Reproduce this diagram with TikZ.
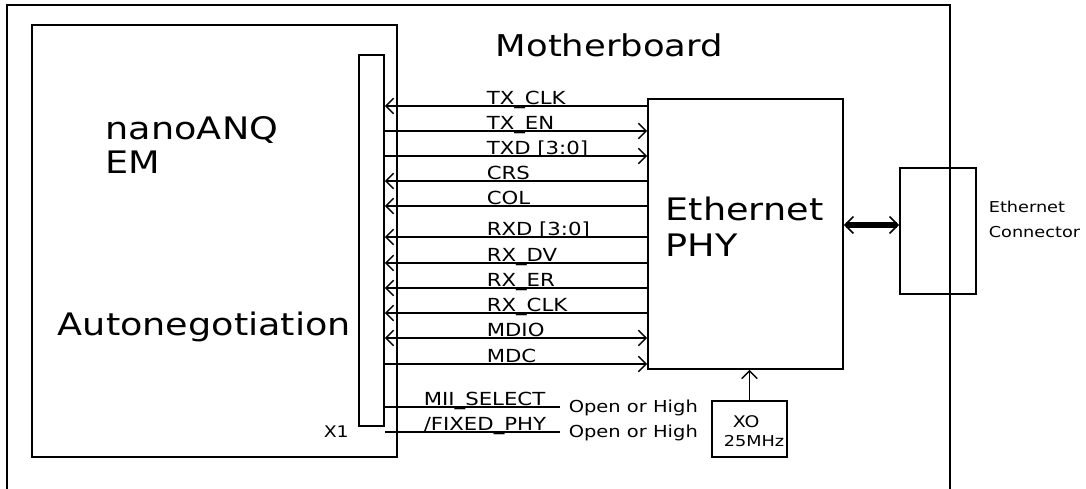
\documentclass[tikz,border=0pt]{standalone}
\usepackage{fontspec}
\setmainfont{DejaVu Sans}[FakeStretch=1.18]
\usetikzlibrary{arrows.meta}
\begin{document}
\begin{tikzpicture}[x=1pt,y=-1pt,line width=1.6pt,
  box/.style={draw,rectangle,inner sep=0pt,line width=1.6pt},
  txt/.style={anchor=base west,inner sep=0pt},
  big/.style={txt,font=\fontsize{31}{36}\selectfont},
  sig/.style={txt,font=\fontsize{18}{20}\selectfont},
  small/.style={txt,font=\fontsize{16.5}{18}\selectfont},
  lar/.style={{Straight Barb[angle=90:11pt,line width=1.5pt]}-},
  rar/.style={-{Straight Barb[angle=90:11pt,line width=1.5pt]}},
  bar/.style={{Straight Barb[angle=90:11pt,line width=1.5pt]}-{Straight Barb[angle=90:11pt,line width=1.5pt]}},
  thick arrow/.style={line width=6pt,{Straight Barb[angle=90:12pt,line width=1.6pt]}-{Straight Barb[angle=90:12pt,line width=1.6pt]}}]
\useasboundingbox (0,0) rectangle (1086,488);
\fill[white] (0,0) rectangle (1086,488);
% motherboard frame
\draw (7,490) -- (7,5) -- (950,5) -- (950,490);
\node[txt,font=\fontsize{30}{34}\selectfont] (mb) at (495,56) {Motherboard};
% boxes
\node[box,minimum width=365pt,minimum height=432pt] (em) at (214.5,241) {};
\node[box,minimum width=25pt,minimum height=371pt] (x1) at (371.5,240.5) {};
\node[box,minimum width=195pt,minimum height=270pt] (phy) at (745.5,234) {};
\node[box,minimum width=75pt,minimum height=56pt] (xo) at (749.5,429) {};
\node[box,minimum width=76pt,minimum height=126pt] (conn) at (938,231) {};
% texts
\node[big] (t1) at (105,139) {nanoANQ};
\node[big] (t2) at (105,173) {EM};
\node[big] (t3) at (57,335) {Autonegotiation};
\node[txt,font=\fontsize{16}{18}\selectfont] (t4) at (323,437) {X1};
\node[big] (t5) at (665,220) {Ethernet};
\node[big] (t6) at (665,256) {PHY};
\node[txt,font=\fontsize{16}{17}\selectfont] (t7) at (732,427) {XO};
\node[txt,font=\fontsize{15}{17}\selectfont] (t8) at (723,446) {25MHz};
\node[txt,font=\fontsize{15}{17}\selectfont] (t9) at (988,212) {Ethernet};
\node[txt,font=\fontsize{15}{17}\selectfont] (t10) at (988,237) {Connector};
% signals
\draw[lar] (x1.east |- 0,106) -- (phy.west |- 0,106);
\node[sig] (s1) at (486,104) {TX\_CLK};
\draw[rar] (x1.east |- 0,131) -- (phy.west |- 0,131);
\node[sig] (s2) at (486,129) {TX\_EN};
\draw[rar] (x1.east |- 0,156) -- (phy.west |- 0,156);
\node[sig] (s3) at (486,154) {TXD [3:0]};
\draw[lar] (x1.east |- 0,181) -- (phy.west |- 0,181);
\node[sig] (s4) at (486,179) {CRS};
\draw[lar] (x1.east |- 0,206) -- (phy.west |- 0,206);
\node[sig] (s5) at (486,204) {COL};
\draw[lar] (x1.east |- 0,237) -- (phy.west |- 0,237);
\node[sig] (s6) at (486,235) {RXD [3:0]};
\draw[lar] (x1.east |- 0,263) -- (phy.west |- 0,263);
\node[sig] (s7) at (486,261) {RX\_DV};
\draw[lar] (x1.east |- 0,288) -- (phy.west |- 0,288);
\node[sig] (s8) at (486,286) {RX\_ER};
\draw[lar] (x1.east |- 0,313) -- (phy.west |- 0,313);
\node[sig] (s9) at (486,311) {RX\_CLK};
\draw[bar] (x1.east |- 0,338) -- (phy.west |- 0,338);
\node[sig] (s10) at (486,336) {MDIO};
\draw[rar] (x1.east |- 0,364) -- (phy.west |- 0,364);
\node[sig] (s11) at (486,362) {MDC};
% strap lines
\coordinate (e1) at (560,407);
\coordinate (e2) at (560,432);
\draw (x1.east |- e1) -- (e1);
\draw (x1.east |- e2) -- (e2);
\node[sig] (m1) at (423,405) {MII\_SELECT};
\node[sig] (m2) at (423,430) {/FIXED\_PHY};
\node[small] (o1) at (568,412) {Open or High};
\node[small] (o2) at (568,437) {Open or High};
% clock
\draw[rar] (xo.north) -- (xo.north |- phy.south);
% ethernet link
\draw[thick arrow] (phy.east |- 0,225) -- (conn.west |- 0,225);
\end{tikzpicture}
\end{document}
